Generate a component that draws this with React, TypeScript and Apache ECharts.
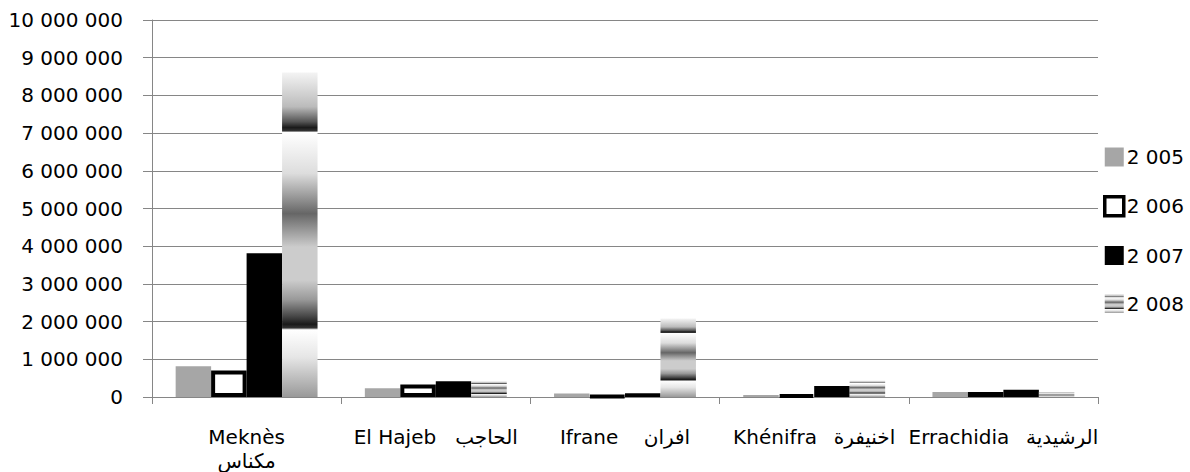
import React, { useEffect, useRef } from 'react';
import * as echarts from 'echarts';

const categories = [
  'Meknès\nمكناس',
  'El Hajeb\u00A0\u00A0\u00A0الحاجب',
  'Ifrane\u00A0\u00A0\u00A0\u00A0افران',
  'Khénifra\u00A0\u00A0\u2009اخنيفرة',
  'Errachidia\u00A0\u00A0\u2009الرشيدية',
];
const seriesNames = ['2 005', '2 006', '2 007', '2 008'];
const values2005 = [815000, 230000, 90000, 50000, 130000];
const values2006 = [700000, 330000, 20000, 50000, 130000];
const values2007 = [3810000, 420000, 100000, 290000, 190000];
const values2008 = [8610000, 420000, 2080000, 440000, 130000];
const yMin = 0;
const yMax = 10000000;
const yInterval = 1000000;

const FONT = '"DejaVu Sans", sans-serif';
const GRID_GRAY = '#868686';

const fmt = (v: number) => String(v).replace(/\B(?=(\d{3})+(?!\d))/g, ' ');

const stripeGradient = () =>
  new echarts.graphic.LinearGradient(0, 0, 0, 1, [
    { offset: 0, color: '#f4f4f4' },
    { offset: 0.106, color: '#bbbbbb' },
    { offset: 0.152, color: '#555555' },
    { offset: 0.17, color: '#1a1a1a' },
    { offset: 0.18, color: '#333333' },
    { offset: 0.185, color: '#ffffff' },
    { offset: 0.311, color: '#dddddd' },
    { offset: 0.383, color: '#999999' },
    { offset: 0.435, color: '#666666' },
    { offset: 0.486, color: '#999999' },
    { offset: 0.538, color: '#cccccc' },
    { offset: 0.64, color: '#cccccc' },
    { offset: 0.7, color: '#999999' },
    { offset: 0.753, color: '#444444' },
    { offset: 0.776, color: '#1a1a1a' },
    { offset: 0.787, color: '#333333' },
    { offset: 0.793, color: '#ffffff' },
    { offset: 0.877, color: '#e6e6e6' },
    { offset: 1, color: '#999999' },
  ]);

export default function App() {
  const ref = useRef<HTMLDivElement>(null);
  useEffect(() => {
    if (!ref.current) return;
    const chart = echarts.init(ref.current, null, { renderer: 'svg' });
    chart.setOption({
      animation: false,
      backgroundColor: '#ffffff',
      textStyle: { fontFamily: FONT },
      grid: { left: 152, right: 92, top: 20, bottom: 75, containLabel: false, outerBoundsMode: 'none' },
      legend: {
        orient: 'vertical',
        left: 1103,
        top: 147,
        padding: 0,
        itemGap: 28,
        itemWidth: 19,
        itemHeight: 19,
        icon: 'rect',
        textStyle: { fontFamily: FONT, fontSize: 20, color: '#000', padding: [0, 0, 0, -2] },
        data: [
          { name: seriesNames[0], itemStyle: { color: '#a6a6a6' } },
          { name: seriesNames[1], itemStyle: { color: '#ffffff', borderColor: '#000', borderWidth: 3.5 } },
          { name: seriesNames[2], itemStyle: { color: '#000000' } },
          { name: seriesNames[3], itemStyle: { color: stripeGradient() } },
        ],
      },
      xAxis: {
        type: 'category',
        data: categories,
        axisLine: { show: true, lineStyle: { color: GRID_GRAY, width: 1 } },
        axisTick: { show: true, length: 7, lineStyle: { color: GRID_GRAY, width: 1 } },
        axisLabel: {
          fontFamily: FONT,
          fontSize: 20,
          color: '#000',
          margin: 28,
          lineHeight: 24,
          interval: 0,
        },
        splitLine: { show: false },
      },
      yAxis: {
        type: 'value',
        min: yMin,
        max: yMax,
        interval: yInterval,
        axisLine: { show: true, lineStyle: { color: GRID_GRAY, width: 1 } },
        axisTick: { show: true, length: 9, lineStyle: { color: GRID_GRAY, width: 1 } },
        axisLabel: {
          fontFamily: FONT,
          fontSize: 20,
          color: '#000',
          margin: 29,
          formatter: fmt,
        },
        splitLine: { show: true, lineStyle: { color: GRID_GRAY, width: 1 } },
      },
      series: [
        {
          name: seriesNames[0],
          type: 'bar',
          data: values2005,
          barGap: '0%',
          barCategoryGap: '25%',
          itemStyle: { color: '#a6a6a6' },
        },
        {
          name: seriesNames[1],
          type: 'bar',
          data: values2006,
          barGap: '0%',
          barCategoryGap: '25%',
          itemStyle: { color: '#ffffff', borderColor: '#000000', borderWidth: 4 },
        },
        {
          name: seriesNames[2],
          type: 'bar',
          data: values2007,
          barGap: '0%',
          barCategoryGap: '25%',
          itemStyle: { color: '#000000' },
        },
        {
          name: seriesNames[3],
          type: 'bar',
          data: values2008,
          barGap: '0%',
          barCategoryGap: '25%',
          itemStyle: { color: stripeGradient() },
        },
      ],
    });
    return () => chart.dispose();
  }, []);
  return (
    <div
      ref={ref}
      style={{ position: 'fixed', left: 0, top: 0, width: 1190, height: 472 }}
    />
  );
}
